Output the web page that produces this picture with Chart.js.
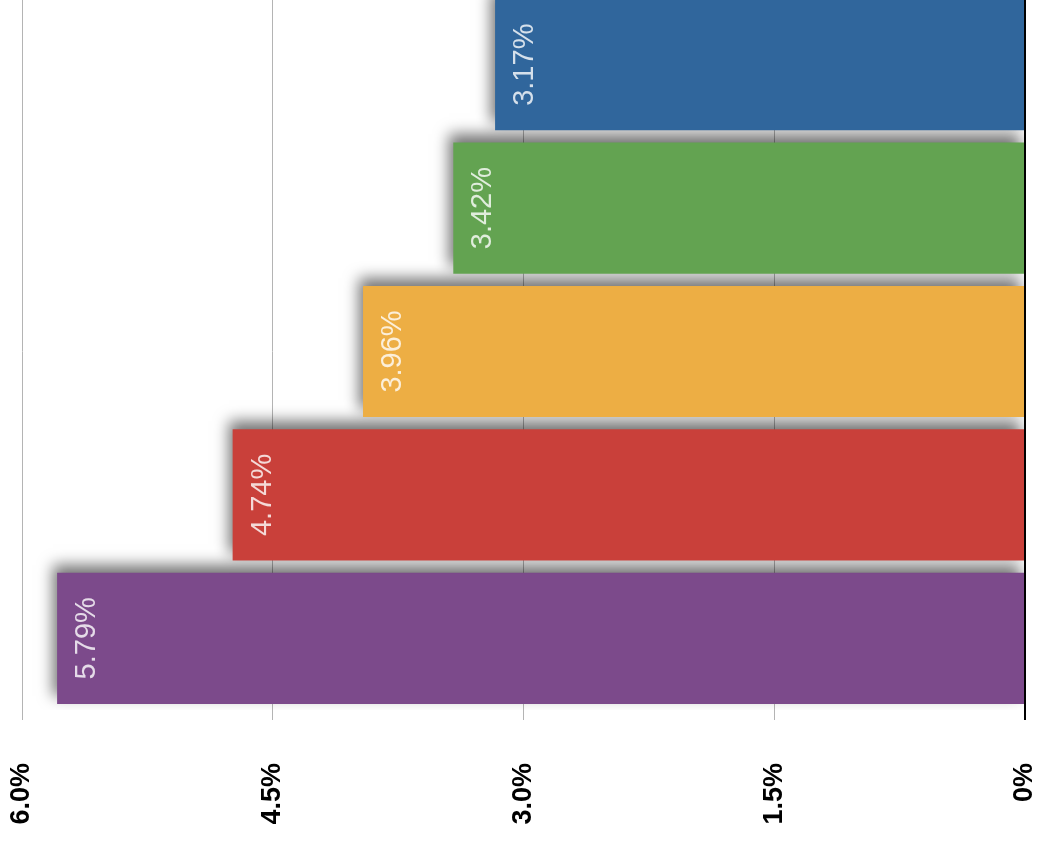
<!DOCTYPE html>
<html>
<head>
<meta charset="utf-8">
<script src="https://cdn.jsdelivr.net/npm/chart.js@4/dist/chart.umd.min.js"></script>
<style>
  html, body { margin: 0; padding: 0; background: #fff; overflow: hidden; }
  #wrap { position: absolute; left: 0; top: -10px; width: 1049px; height: 864px; }
</style>
</head>
<body>
<div id="wrap"><canvas id="chart1" width="1049" height="864"></canvas></div>
<script>
// categories are not labelled in the picture; order is bottom -> top
let categories = ['A', 'B', 'C', 'D', 'E'];
let values = [5.79, 4.74, 3.96, 3.42, 3.17];
let barColors = ['#7c4a8b', '#c9403a', '#edae44', '#63a351', '#30669c'];
let xTicks = [0, 1.5, 3.0, 4.5, 6.0];

// drop shadow under the bars
var shadowPlugin = {
    id: 'barShadow',
    beforeDatasetsDraw: function(chart) {
        var ctx = chart.ctx;
        ctx.save();
        ctx.shadowColor = 'rgba(0,0,0,0.55)';
        ctx.shadowBlur = 14;
        ctx.shadowOffsetX = -4;
        ctx.shadowOffsetY = -8;
    },
    afterDatasetsDraw: function(chart) {
        chart.ctx.restore();
    }
};

// rotated value labels near the end of each bar
var valueLabels = {
    id: 'valueLabels',
    afterDatasetsDraw: function(chart) {
        var ctx = chart.ctx;
        var meta = chart.getDatasetMeta(0);
        ctx.save();
        ctx.font = '29px "Liberation Sans", Arial, sans-serif';
        ctx.fillStyle = 'rgba(255,255,255,0.8)';
        ctx.textAlign = 'center';
        ctx.textBaseline = 'middle';
        meta.data.forEach(function(bar, i) {
            ctx.save();
            ctx.translate(bar.x + 30, bar.y);
            ctx.rotate(-Math.PI / 2);
            ctx.fillText(values[i].toFixed(2) + '%', 0, 0);
            ctx.restore();
        });
        ctx.restore();
    }
};

var ctx = document.getElementById('chart1').getContext('2d');
var chart = new Chart(ctx, {
    type: 'bar',
    data: {
        labels: categories,
        datasets: [{
            data: values,
            backgroundColor: barColors,
            borderWidth: 0,
            barPercentage: 0.915,
            categoryPercentage: 1.0
        }]
    },
    options: {
        indexAxis: 'y',
        responsive: false,
        animation: false,
        layout: { padding: { top: 3, right: 24, left: 22, bottom: 0 } },
        plugins: {
            legend: { display: false },
            tooltip: { enabled: false }
        },
        scales: {
            x: {
                reverse: true,
                min: 0,
                max: 6,
                afterBuildTicks: function(scale) {
                    scale.ticks = xTicks.map(function(v) { return { value: v }; });
                },
                afterFit: function(scale) { scale.height = 144; },
                border: { display: false },
                grid: {
                    color: function(c) { return c.tick && c.tick.value === 0 ? '#000' : '#b4b4b4'; },
                    lineWidth: function(c) { return c.tick && c.tick.value === 0 ? 2 : 1; },
                    tickLength: 10
                },
                ticks: {
                    minRotation: 90,
                    maxRotation: 90,
                    padding: 43,
                    color: '#000',
                    font: { family: '"Liberation Sans", Arial, sans-serif', size: 27, weight: 'bold' },
                    callback: function(v) { return v === 0 ? '0%' : v.toFixed(1) + '%'; }
                }
            },
            y: {
                reverse: true,
                display: false
            }
        }
    },
    plugins: [shadowPlugin, valueLabels]
});
</script>
</body>
</html>
